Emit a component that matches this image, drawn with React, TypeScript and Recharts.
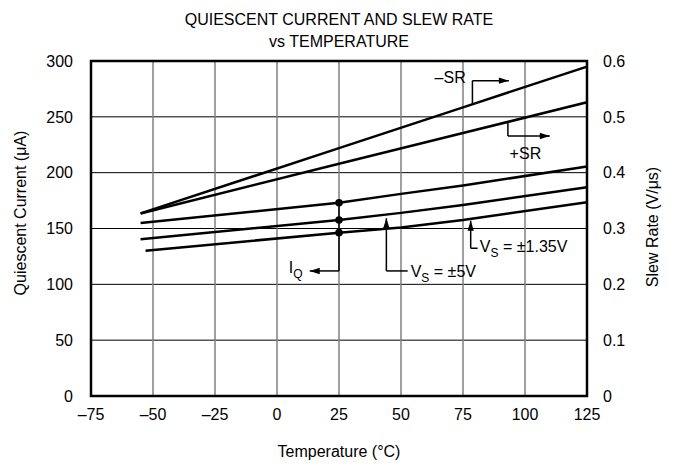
import {
  ComposedChart,
  Line,
  XAxis,
  YAxis,
  CartesianGrid,
  ReferenceLine,
  ReferenceDot,
  ReferenceArea,
} from 'recharts'

const FONT = '"Liberation Sans", Arial, Helvetica, sans-serif'

// axis ticks
const tempTicks = [-75, -50, -25, 0, 25, 50, 75, 100, 125]
const iqTicks = [0, 50, 100, 150, 200, 250, 300]
const srTicks = [0, 0.1, 0.2, 0.3, 0.4, 0.5, 0.6]

// slew rate (V/us), right axis
const srTemps = [-55, 25, 75, 125]
const negSR = [0.327, 0.444, 0.517, 0.59]
const posSR = [0.327, 0.416, 0.471, 0.526]

// quiescent current (uA), left axis
const iqTemps = [-55, 25, 50, 75, 125]
const iqTop = [155, 173, 181, 188.5, 205.5]
const iq5V = [140.4, 157.6, 164, 171, 187]
const iq135Temps = [-53, 25, 50, 75, 125]
const iq135V = [130, 146.3, 151, 157.6, 173.5]

// leader lines for the labels, in (°C, uA)
const negSRLeader = [[78.8, 261.5], [78.8, 282.4], [93.5, 282.4]]
const posSRLeader = [[93.1, 245.2], [93.1, 232.9], [110, 232.9]]
const iqLeader = [[25, 173], [25, 112], [13.2, 112]]
const vs5Leader = [[44.1, 159.2], [44.1, 112], [52.7, 112]]
const vs135Leader = [[78.1, 157], [78.1, 132.3], [80.9, 132.3]]

const pts = (ts: number[], vs: number[]) => ts.map((t, i) => ({ t, v: vs[i] }))

const arrowShape = (dir: 'left' | 'right' | 'up') => (p: any) => {
  const { cx, cy } = p
  const L = 10
  const W = 3.2
  let d = ''
  if (dir === 'right') d = `M${cx},${cy} L${cx - L},${cy - W} L${cx - L},${cy + W} Z`
  if (dir === 'left') d = `M${cx},${cy} L${cx + L},${cy - W} L${cx + L},${cy + W} Z`
  if (dir === 'up') d = `M${cx},${cy} L${cx - W},${cy + L} L${cx + W},${cy + L} Z`
  return <path d={d} fill="#000" stroke="none" />
}

const textShape = (content: any, anchor: 'start' | 'end' = 'start') => (p: any) => (
  <text x={p.cx} y={p.cy} textAnchor={anchor} fontSize={16} fontFamily={FONT} fill="#000">
    {content}
  </text>
)

const leaderLines = (leader: number[][], key: string) =>
  leader.slice(1).map((pt, i) => (
    <ReferenceLine
      key={`${key}${i}`}
      yAxisId="iq"
      segment={[
        { x: leader[i][0], y: leader[i][1] },
        { x: pt[0], y: pt[1] },
      ]}
      stroke="#000"
      strokeWidth={1.5}
    />
  ))

const markDot = (p: any) =>
  p.payload.t === 25 ? (
    <circle key={`dot${p.index}`} cx={p.cx} cy={p.cy} r={3.8} fill="#000" stroke="none" />
  ) : (
    <g key={`dot${p.index}`} />
  )

const sub = (main: string, s: string, rest: string) => (
  <>
    {main}
    <tspan dy={5} fontSize={12}>
      {s}
    </tspan>
    <tspan dy={-5}>{rest}</tspan>
  </>
)

export default function App() {
  const tickStyle = { fontSize: 16, fill: '#000', fontFamily: FONT }
  return (
    <div style={{ position: 'absolute', left: 0, top: 0, width: 676, height: 469, background: '#fff' }}>
      <ComposedChart width={676} height={469} margin={{ top: 61, right: 29, bottom: 43, left: 31 }}>
        <CartesianGrid yAxisId="iq" vertical={false} stroke="#000" strokeWidth={1} />
        <CartesianGrid yAxisId="iq" horizontal={false} stroke="#808080" strokeWidth={1.5} />
        <XAxis
          dataKey="t"
          type="number"
          domain={[-75, 125]}
          ticks={tempTicks}
          allowDuplicatedCategory={false}
          axisLine={false}
          tickLine={false}
          tickSize={0}
          tickMargin={13}
          height={30}
          tick={tickStyle}
          tickFormatter={(v: number) => String(v).replace('-', '\u2013')}
        />
        <YAxis
          yAxisId="iq"
          orientation="left"
          domain={[0, 300]}
          ticks={iqTicks}
          axisLine={false}
          tickLine={false}
          tickSize={0}
          tickMargin={18}
          width={60}
          tick={tickStyle}
        />
        <YAxis
          yAxisId="sr"
          orientation="right"
          domain={[0, 0.6]}
          ticks={srTicks}
          axisLine={false}
          tickLine={false}
          tickSize={0}
          tickMargin={16}
          width={60}
          tick={tickStyle}
          tickFormatter={(v: number) => String(v)}
        />
        <ReferenceArea
          yAxisId="iq"
          x1={-75}
          x2={125}
          y1={0}
          y2={300}
          fill="none"
          fillOpacity={0}
          stroke="#000"
          strokeWidth={2.5}
        />

        <Line yAxisId="sr" data={pts(srTemps, negSR)} dataKey="v" type="linear" stroke="#000" strokeWidth={2.5} dot={false} isAnimationActive={false} />
        <Line yAxisId="sr" data={pts(srTemps, posSR)} dataKey="v" type="linear" stroke="#000" strokeWidth={2.5} dot={false} isAnimationActive={false} />
        <Line yAxisId="iq" data={pts(iqTemps, iqTop)} dataKey="v" type="linear" stroke="#000" strokeWidth={2.5} dot={markDot} isAnimationActive={false} />
        <Line yAxisId="iq" data={pts(iqTemps, iq5V)} dataKey="v" type="linear" stroke="#000" strokeWidth={2.5} dot={markDot} isAnimationActive={false} />
        <Line yAxisId="iq" data={pts(iq135Temps, iq135V)} dataKey="v" type="linear" stroke="#000" strokeWidth={2.5} dot={markDot} isAnimationActive={false} />

        {leaderLines(negSRLeader, 'nsr')}
        {leaderLines(posSRLeader, 'psr')}
        {leaderLines(iqLeader, 'iq')}
        {leaderLines(vs5Leader, 'v5')}
        {leaderLines(vs135Leader, 'v135')}

        <ReferenceDot yAxisId="iq" x={93.5} y={282.4} r={0} shape={arrowShape('right')} />
        <ReferenceDot yAxisId="iq" x={110} y={232.9} r={0} shape={arrowShape('right')} />
        <ReferenceDot yAxisId="iq" x={13.2} y={112} r={0} shape={arrowShape('left')} />
        <ReferenceDot yAxisId="iq" x={44.1} y={159.2} r={0} shape={arrowShape('up')} />
        <ReferenceDot yAxisId="iq" x={78.1} y={157} r={0} shape={arrowShape('up')} />

        <ReferenceDot yAxisId="iq" x={76.1} y={280.3} r={0} shape={textShape('\u2013SR', 'end')} />
        <ReferenceDot yAxisId="iq" x={93.8} y={212.3} r={0} shape={textShape('+SR')} />
        <ReferenceDot yAxisId="iq" x={10.3} y={110} r={0} shape={textShape(sub('I', 'Q', ''), 'end')} />
        <ReferenceDot yAxisId="iq" x={53.9} y={106.9} r={0} shape={textShape(sub('V', 'S', ' = \u00b15V'))} />
        <ReferenceDot yAxisId="iq" x={81.8} y={129.3} r={0} shape={textShape(sub('V', 'S', ' = \u00b11.35V'))} />
      </ComposedChart>
      <svg
        width={676}
        height={469}
        style={{ position: 'absolute', left: 0, top: 0, pointerEvents: 'none' }}
        fontFamily={FONT}
        fontSize={16}
        fill="#000"
      >
        <text x={339} y={25} textAnchor="middle">QUIESCENT CURRENT AND SLEW RATE</text>
        <text x={339} y={47} textAnchor="middle">vs TEMPERATURE</text>
        <text x={339} y={457} textAnchor="middle">Temperature (°C)</text>
        <text transform="translate(26,213) rotate(-90)" textAnchor="middle">Quiescent Current (μA)</text>
        <text transform="translate(658,227) rotate(-90)" textAnchor="middle">Slew Rate (V/μs)</text>
      </svg>
    </div>
  )
}
